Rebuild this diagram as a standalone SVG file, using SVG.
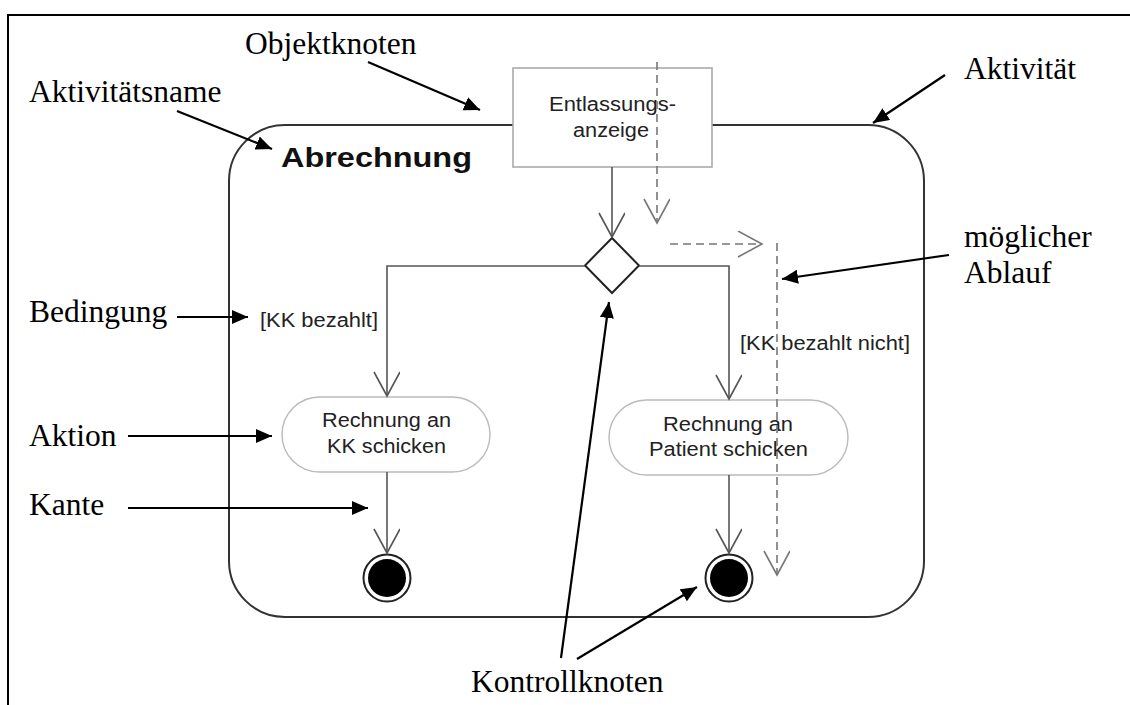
<svg xmlns="http://www.w3.org/2000/svg" width="1130" height="705" viewBox="0 0 1130 705">
  <style>
    .note { font-family: "Liberation Serif", "Times New Roman", serif; font-size: 31.5px; fill: #000; }
    .uml { font-family: "Liberation Sans", Arial, sans-serif; font-size: 20px; fill: #222; }
    .title { font-family: "Liberation Sans", Arial, sans-serif; font-size: 28px; font-weight: bold; fill: #111; }
    .edge { fill: none; stroke: #555; stroke-width: 1.6; }
    .flow { fill: none; stroke: #777; stroke-width: 1.6; stroke-dasharray: 8 5; }
    .pointer { fill: none; stroke: #000; stroke-width: 2.2; }
  </style>
  <defs>
    <marker id="open" markerWidth="30" markerHeight="30" refX="25" refY="13" orient="auto" markerUnits="userSpaceOnUse">
      <path d="M1,0 L25,13 L1,26" fill="none" stroke="#555" stroke-width="1.6"/>
    </marker>
    <marker id="openGrey" markerWidth="30" markerHeight="30" refX="25" refY="13" orient="auto" markerUnits="userSpaceOnUse">
      <path d="M1,0 L25,13 L1,26" fill="none" stroke="#777" stroke-width="1.6"/>
    </marker>
    <marker id="solid" markerWidth="20" markerHeight="16" refX="16" refY="7" orient="auto" markerUnits="userSpaceOnUse">
      <path d="M0,0 L16,7 L0,14 Z" fill="#000"/>
    </marker>
  </defs>

  <rect width="1130" height="705" fill="#fff"/>

  <!-- page frame -->
  <path d="M8,705 L8,15 L1130,15" fill="none" stroke="#000" stroke-width="2"/>

  <!-- activity frame -->
  <g id="activity">
    <rect x="229" y="125" width="695" height="492" rx="56" ry="56" fill="#fff" stroke="#333" stroke-width="2"/>
    <text class="title" x="281" y="167" textLength="191" lengthAdjust="spacingAndGlyphs">Abrechnung</text>
  </g>

  <!-- object node -->
  <g id="objektknoten">
    <rect x="513" y="68" width="199" height="99" fill="#fff" stroke="#aaa" stroke-width="1.6"/>
    <text class="uml" x="549" y="111" textLength="127" lengthAdjust="spacingAndGlyphs">Entlassungs-</text>
    <text class="uml" x="573" y="137" textLength="76" lengthAdjust="spacingAndGlyphs">anzeige</text>
  </g>

  <!-- decision node -->
  <g id="entscheidung">
    <polygon points="612,238 639,265.5 612,293 585,265.5" fill="#fff" stroke="#222" stroke-width="2"/>
  </g>

  <!-- actions -->
  <g id="aktion-kk">
    <rect x="282" y="397" width="208" height="75" rx="37.5" ry="37.5" fill="#fff" stroke="#bbb" stroke-width="1.4"/>
    <text class="uml" x="322" y="427" textLength="129" lengthAdjust="spacingAndGlyphs">Rechnung an</text>
    <text class="uml" x="327" y="453" textLength="119" lengthAdjust="spacingAndGlyphs">KK schicken</text>
  </g>
  <g id="aktion-patient">
    <rect x="609" y="400" width="239" height="75" rx="37.5" ry="37.5" fill="#fff" stroke="#bbb" stroke-width="1.4"/>
    <text class="uml" x="663" y="431" textLength="130" lengthAdjust="spacingAndGlyphs">Rechnung an</text>
    <text class="uml" x="649" y="456" textLength="159" lengthAdjust="spacingAndGlyphs">Patient schicken</text>
  </g>

  <!-- final nodes -->
  <g id="ende-kk">
    <circle cx="387" cy="578" r="23.5" fill="#fff" stroke="#222" stroke-width="2"/>
    <circle cx="387" cy="578" r="19" fill="#000"/>
  </g>
  <g id="ende-patient">
    <circle cx="729" cy="578" r="23.5" fill="#fff" stroke="#222" stroke-width="2"/>
    <circle cx="729" cy="578" r="19" fill="#000"/>
  </g>

  <!-- guards -->
  <text class="uml" x="260" y="327" textLength="118" lengthAdjust="spacingAndGlyphs">[KK bezahlt]</text>
  <text class="uml" x="740" y="350" textLength="170" lengthAdjust="spacingAndGlyphs">[KK bezahlt nicht]</text>

  <!-- control flow edges -->
  <g id="kanten">
    <path class="edge" d="M612,167 L612,237" marker-end="url(#open)"/>
    <path class="edge" d="M585,266 L387,266 L387,396" marker-end="url(#open)"/>
    <path class="edge" d="M639,266 L729,266 L729,399" marker-end="url(#open)"/>
    <path class="edge" d="M387,472 L387,553" marker-end="url(#open)"/>
    <path class="edge" d="M729,475 L729,553" marker-end="url(#open)"/>
  </g>

  <!-- sample flow path -->
  <g id="ablauf">
    <path class="flow" d="M657,62 L657,223" marker-end="url(#openGrey)"/>
    <path class="flow" d="M670,244 L762,244" marker-end="url(#openGrey)"/>
    <path class="flow" d="M777,243 L777,575" marker-end="url(#openGrey)"/>
  </g>

  <!-- annotations -->
  <g id="beschriftungen">
    <text class="note" x="245" y="54">Objektknoten</text>
    <text class="note" x="29" y="102">Aktivitätsname</text>
    <text class="note" x="964" y="79">Aktivität</text>
    <text class="note" x="964" y="247">möglicher</text>
    <text class="note" x="964" y="283">Ablauf</text>
    <text class="note" x="29" y="322">Bedingung</text>
    <text class="note" x="29" y="446">Aktion</text>
    <text class="note" x="29" y="515">Kante</text>
    <text class="note" x="471" y="692">Kontrollknoten</text>

    <path class="pointer" d="M368,62 L480,110" marker-end="url(#solid)"/>
    <path class="pointer" d="M177,111 L272,149" marker-end="url(#solid)"/>
    <path class="pointer" d="M945,75 L873,123" marker-end="url(#solid)"/>
    <path class="pointer" d="M949,255 L782,279" marker-end="url(#solid)"/>
    <path class="pointer" d="M177,317 L248,317" marker-end="url(#solid)"/>
    <path class="pointer" d="M128,436 L272,436" marker-end="url(#solid)"/>
    <path class="pointer" d="M128,508 L368,508" marker-end="url(#solid)"/>
    <path class="pointer" d="M561,658 L609,302" marker-end="url(#solid)"/>
    <path class="pointer" d="M577,659 L697,587" marker-end="url(#solid)"/>
  </g>
</svg>
